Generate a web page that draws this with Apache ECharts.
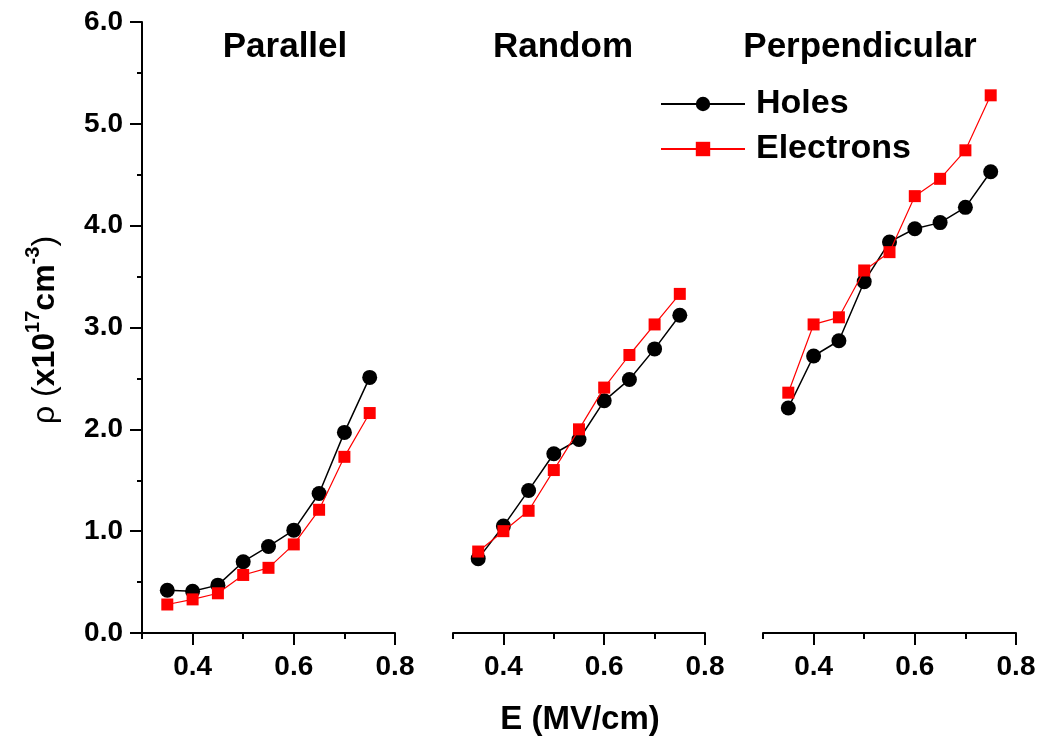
<!DOCTYPE html>
<html>
<head>
<meta charset="utf-8">
<script src="https://cdn.jsdelivr.net/npm/echarts@6/dist/echarts.min.js"></script>
<style>
  html, body { margin: 0; padding: 0; background: #fff; }
  #chart { width: 1044px; height: 744px; }
</style>
</head>
<body>
<div id="chart"></div>
<script>
// field values (MV/cm)
var fieldE = [0.35, 0.40, 0.45, 0.50, 0.55, 0.60, 0.65, 0.70, 0.75];

// rho (x10^17 cm^-3)
var holesParallel      = [0.42, 0.41, 0.47, 0.70, 0.85, 1.01, 1.37, 1.97, 2.51];
var electronsParallel  = [0.28, 0.33, 0.39, 0.57, 0.64, 0.87, 1.21, 1.73, 2.16];
var holesRandom        = [0.73, 1.05, 1.40, 1.76, 1.90, 2.28, 2.49, 2.79, 3.12];
var electronsRandom    = [0.80, 1.00, 1.20, 1.60, 2.00, 2.41, 2.73, 3.03, 3.33];
var holesPerp          = [2.21, 2.72, 2.87, 3.45, 3.84, 3.97, 4.03, 4.18, 4.53];
var electronsPerp      = [2.36, 3.03, 3.10, 3.56, 3.74, 4.29, 4.46, 4.74, 5.28];

var panelTitles = ['Parallel', 'Random', 'Perpendicular'];
var xMajorTicks = [0.4, 0.6, 0.8];

var panels = [
    {holes: holesParallel, electrons: electronsParallel},
    {holes: holesRandom, electrons: electronsRandom},
    {holes: holesPerp, electrons: electronsPerp}
];

function pairs(xs, ys) {
    return xs.map(function (x, i) { return [x, ys[i]]; });
}

var FONT = 'Liberation Sans, Arial, sans-serif';
var gridBox = [{left: 142, width: 253}, {left: 453, width: 252}, {left: 763, width: 253}];
var titleX = [285, 563, 860];

var myChart = echarts.init(document.getElementById('chart'));

var grids = [], xAxes = [], yAxes = [], series = [], graphics = [];

panels.forEach(function (p, i) {
    grids.push({left: gridBox[i].left, width: gridBox[i].width, top: 22, height: 611});

    // minor ticks + axis line
    xAxes.push({
        type: 'value', gridIndex: i, position: 'bottom',
        min: 0.3, max: 0.8, interval: 0.1,
        axisLine: {show: true, lineStyle: {color: '#000', width: 2}},
        axisTick: {show: true, length: 6, lineStyle: {color: '#000', width: 2}},
        axisLabel: {show: false},
        splitLine: {show: false}
    });
    // major ticks + labels
    xAxes.push({
        type: 'value', gridIndex: i, position: 'bottom',
        min: 0.3, max: 0.8,
        axisLine: {show: false},
        axisTick: {show: true, length: 12, customValues: xMajorTicks, lineStyle: {color: '#000', width: 2}},
        axisLabel: {
            show: true, customValues: xMajorTicks, margin: 20,
            fontFamily: FONT, fontSize: 28, fontWeight: 'bold', color: '#000',
            formatter: function (v) { return v.toFixed(1); }
        },
        splitLine: {show: false}
    });

    yAxes.push({
        type: 'value', gridIndex: i, show: i === 0,
        min: 0, max: 6, interval: 1,
        axisLine: {show: true, lineStyle: {color: '#000', width: 2}},
        axisTick: {show: true, length: 12, lineStyle: {color: '#000', width: 2}},
        minorTick: {show: true, splitNumber: 2, length: 5, lineStyle: {color: '#000', width: 2}},
        axisLabel: {
            margin: 19, fontFamily: FONT, fontSize: 28, fontWeight: 'bold', color: '#000',
            formatter: function (v) { return v.toFixed(1); }
        },
        splitLine: {show: false},
        minorSplitLine: {show: false}
    });

    series.push({
        name: 'Holes', type: 'line', xAxisIndex: i * 2, yAxisIndex: i,
        data: pairs(fieldE, p.holes),
        symbol: 'circle', symbolSize: 15,
        itemStyle: {color: '#000'},
        lineStyle: {color: '#000', width: 1.5},
        z: 2
    });
    series.push({
        name: 'Electrons', type: 'line', xAxisIndex: i * 2, yAxisIndex: i,
        data: pairs(fieldE, p.electrons),
        symbol: 'rect', symbolSize: 12,
        itemStyle: {color: '#f00'},
        lineStyle: {color: '#f00', width: 1.2},
        z: 3
    });

    graphics.push({
        type: 'text', x: titleX[i], y: 47,
        style: {
            text: panelTitles[i], align: 'center', verticalAlign: 'middle',
            font: 'bold 35px ' + FONT, fill: '#000'
        }
    });
});

// axis titles
graphics.push({
    type: 'text', x: 580, y: 720,
    style: {
        text: 'E (MV/cm)', align: 'center', verticalAlign: 'middle',
        font: 'bold 33px ' + FONT, fill: '#000'
    }
});
graphics.push({
    type: 'text', x: 42, y: 330, rotation: Math.PI / 2,
    style: {
        text: '{n|ρ (}{b|x10}{s|17}{b|cm}{s|-3}{n|)}',
        align: 'center', verticalAlign: 'middle',
        rich: {
            n: {fontFamily: FONT, fontSize: 32, fontWeight: 'normal', fill: '#000', verticalAlign: 'bottom'},
            b: {fontFamily: FONT, fontSize: 32, fontWeight: 'bold', fill: '#000', verticalAlign: 'bottom'},
            s: {fontFamily: FONT, fontSize: 20, fontWeight: 'bold', fill: '#000', verticalAlign: 'bottom', padding: [0, 0, 18, 0]}
        }
    }
});

var option = {
    animation: false,
    backgroundColor: '#fff',
    grid: grids,
    xAxis: xAxes,
    yAxis: yAxes,
    legend: {
        data: ['Holes', 'Electrons'],
        orient: 'vertical',
        left: 660, top: 87, padding: 0,
        itemWidth: 84, itemHeight: 18, itemGap: 11,
        textStyle: {fontFamily: FONT, fontSize: 34, fontWeight: 'bold', color: '#000', padding: [0, 0, 0, 6]}
    },
    series: series,
    graphic: graphics
};

myChart.setOption(option);
window.addEventListener('resize', function () { myChart.resize(); });
</script>
</body>
</html>
